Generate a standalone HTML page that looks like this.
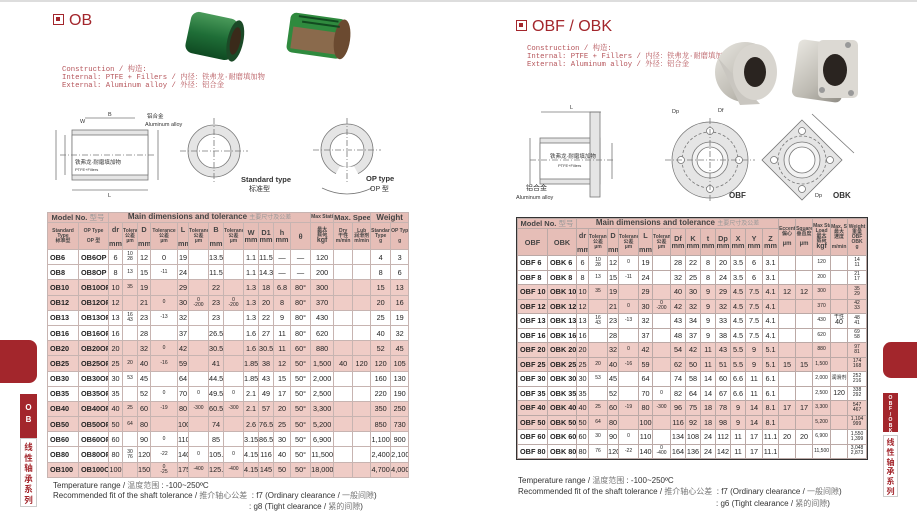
<!DOCTYPE html>
<html><head><meta charset="utf-8">
<style>
*{margin:0;padding:0;box-sizing:border-box}
body{width:917px;height:524px;background:#fff;position:relative;overflow:hidden;font-family:"Liberation Sans","Noto Sans CJK SC",sans-serif;color:#222}
.a{position:absolute}
.title{color:#a3262c;font-size:16px;white-space:nowrap}
.title b{display:inline-block;width:11px;height:11px;border:1.5px solid #a3262c;position:relative;top:0px;margin-right:5px}
.title b:after{content:"";position:absolute;left:2px;top:2px;width:4px;height:4px;background:#a3262c}
.cons{font-family:"Liberation Mono","Noto Serif CJK SC",monospace;font-size:7.3px;line-height:8.2px;color:#b5545a;white-space:pre}
table{border-collapse:collapse;table-layout:fixed;position:absolute}
td{border:1px solid #c7b4b1;text-align:center;vertical-align:middle;font-size:7.3px;line-height:7px;overflow:hidden;white-space:nowrap;padding:0}
tr.p td{background:#efccc6}
tr.h td{background:#e6beb7;font-weight:bold;color:#444}
td.m{font-weight:bold;text-align:left;padding-left:2px}
td.s{font-size:5px;line-height:5px}
#R td{border-color:#bba9a6}
#R{outline:1.5px solid #333}
.foot{font-size:8px;color:#333;white-space:nowrap}
.foot span{color:#777}
</style></head><body>
<div class="a" style="left:0;top:0;width:917px;height:2px;background:#ddd"></div>

<div class="a title" style="left:53px;top:12px;">
<b></b>OB</div>
<div class="a title" style="left:516px;top:18px;"><b></b>OBF / OBK</div>

<div class="a cons" style="left:62px;top:66px">Construction / 构造:
Internal: PTFE + Fillers / 内径：铁弗龙·耐磨填加物
External: Aluminum alloy / 外径：铝合金</div>
<div class="a cons" style="left:527px;top:45px">Construction / 构造:
Internal: PTFE + Fillers / 内径：铁弗龙·耐磨填加物
External: Aluminum alloy / 外径：铝合金</div>

<svg class="a" style="left:0;top:0" width="917" height="210">
<defs>
<linearGradient id="g" x1="0" y1="0" x2="0" y2="1"><stop offset="0" stop-color="#4a9a5a"/><stop offset=".5" stop-color="#1f6e37"/><stop offset="1" stop-color="#0f4a22"/></linearGradient>
<linearGradient id="s" x1="0" y1="0" x2="1" y2="1"><stop offset="0" stop-color="#e8e6e0"/><stop offset=".6" stop-color="#bdbab2"/><stop offset="1" stop-color="#8f8c85"/></linearGradient>
</defs>
<g transform="rotate(12 212 35)"><rect x="188" y="15" width="48" height="42" rx="8" fill="url(#g)"/><ellipse cx="236" cy="36" rx="8" ry="21" fill="#1b4a27"/><ellipse cx="236" cy="36" rx="5" ry="14" fill="#3a2a1a"/></g>
<g transform="rotate(8 318 38)"><rect x="288" y="16" width="56" height="40" rx="6" fill="#2f8a3e"/><rect x="292" y="30" width="46" height="22" fill="#8a6a4c"/><ellipse cx="342" cy="36" rx="8" ry="20" fill="#6b4a30"/><path d="M296 19h40M300 24h38" stroke="#124a20" stroke-width="2"/></g>
<g><ellipse cx="745" cy="72" rx="30" ry="30" fill="url(#s)"/><path d="M718 58 L740 105 L760 104 Z" fill="#c9c6c0"/><ellipse cx="755" cy="72" rx="22" ry="28" fill="#d8d5cf"/><ellipse cx="755" cy="72" rx="11" ry="15" fill="#2a2420"/></g>
<g><rect x="795" y="42" width="50" height="58" rx="6" fill="url(#s)" transform="rotate(8 820 71)"/><rect x="818" y="40" width="40" height="58" rx="5" fill="#dcd9d3"/><ellipse cx="835" cy="70" rx="12" ry="16" fill="#2a2420"/><circle cx="848" cy="45" r="3" fill="#999"/><circle cx="851" cy="93" r="3" fill="#999"/><circle cx="822" cy="90" r="3" fill="#999"/></g>

<g fill="none" stroke="#777" stroke-width=".8">
<rect x="72" y="130" width="76" height="50" fill="#e5e5e5"/>
<rect x="72" y="135" width="76" height="40" fill="#fff"/>
<line x1="60" y1="155" x2="155" y2="155" stroke-dasharray="6 2 1 2"/>
<line x1="56" y1="130" x2="56" y2="180"/><line x1="65" y1="135" x2="65" y2="175"/>
<line x1="158" y1="130" x2="158" y2="180"/><line x1="72" y1="190" x2="148" y2="190"/>
<line x1="85" y1="118" x2="135" y2="118"/>
<circle cx="214" cy="151" r="26" fill="#e5e5e5"/><circle cx="214" cy="151" r="17" fill="#fff"/>
<line x1="180" y1="151" x2="248" y2="151" stroke-dasharray="6 2 1 2"/><line x1="214" y1="118" x2="214" y2="184" stroke-dasharray="6 2 1 2"/>
<circle cx="347" cy="150" r="26" fill="#e5e5e5"/><circle cx="347" cy="150" r="17" fill="#fff"/>
<path d="M340 167 L333 180 L361 180 L354 167 Z" fill="#fff" stroke="#fff"/>
<line x1="313" y1="150" x2="381" y2="150" stroke-dasharray="6 2 1 2"/><line x1="347" y1="118" x2="347" y2="184" stroke-dasharray="6 2 1 2"/>
<path d="M322 188 Q347 200 372 188"/>
<rect x="540" y="138" width="60" height="46" fill="#e5e5e5"/><rect x="540" y="143" width="60" height="36" fill="#fff"/>
<rect x="590" y="112" width="10" height="85" fill="#e5e5e5"/>
<line x1="530" y1="160" x2="615" y2="160" stroke-dasharray="6 2 1 2"/>
<line x1="541" y1="112" x2="601" y2="112"/><line x1="530" y1="138" x2="530" y2="184"/><line x1="612" y1="143" x2="612" y2="179"/>
<circle cx="710" cy="160" r="38" fill="#e5e5e5"/><circle cx="710" cy="160" r="28" stroke-dasharray="3 2"/><circle cx="710" cy="160" r="18" fill="#f2f2f2"/><circle cx="710" cy="160" r="13" fill="#fff"/>
<circle cx="710" cy="131" r="3.5" fill="#fff"/><circle cx="710" cy="189" r="3.5" fill="#fff"/><circle cx="681" cy="160" r="3.5" fill="#fff"/><circle cx="739" cy="160" r="3.5" fill="#fff"/>
<line x1="665" y1="160" x2="755" y2="160" stroke-dasharray="6 2 1 2"/><line x1="710" y1="118" x2="710" y2="202" stroke-dasharray="6 2 1 2"/>
<path d="M802 120 L842 160 L802 200 L762 160 Z" fill="#e5e5e5"/><circle cx="802" cy="160" r="18" fill="#f2f2f2"/><circle cx="802" cy="160" r="13" fill="#fff"/><circle cx="802" cy="160" r="24" stroke-dasharray="3 2"/>
<circle cx="802" cy="131" r="3.5" fill="#fff"/><circle cx="802" cy="189" r="3.5" fill="#fff"/><circle cx="774" cy="160" r="3.5" fill="#fff"/><circle cx="830" cy="160" r="3.5" fill="#fff"/>
<line x1="812" y1="114" x2="854" y2="153"/>
</g>
<g font-size="5.5" fill="#333" font-family="Liberation Sans,Noto Sans CJK SC,sans-serif">
<text x="108" y="116">B</text><text x="80" y="123">W</text><text x="147" y="118">铝合金</text><text x="145" y="126">Aluminum alloy</text>
<text x="75" y="164">铁弗龙·耐磨填加物</text><text x="75" y="171" font-size="4">PTFE+Fillers</text><text x="108" y="197">L</text>
<text x="241" y="182" font-size="7.5" font-weight="bold">Standard type</text><text x="249" y="191" font-size="7">标准型</text>
<text x="366" y="181" font-size="7.5" font-weight="bold">OP type</text><text x="370" y="191" font-size="7">OP 型</text>
<text x="570" y="109">L</text><text x="550" y="158">铁弗龙·耐磨填加物</text><text x="558" y="167" font-size="4">PTFE+Fillers</text>
<text x="526" y="190" font-size="7">铝合金</text><text x="516" y="199">Aluminum alloy</text>
<text x="672" y="113">Dp</text><text x="718" y="112">Df</text>
<text x="729" y="198" font-size="8" font-weight="bold">OBF</text><text x="833" y="198" font-size="8" font-weight="bold">OBK</text><text x="815" y="197">Dp</text>
</g>
</svg>

<table style="left:47px;top:212px;width:361px">
<colgroup><col style="width:31px"><col style="width:30px"><col style="width:14px"><col style="width:15px"><col style="width:13px"><col style="width:27px"><col style="width:11px"><col style="width:20px"><col style="width:15px"><col style="width:20px"><col style="width:15px"><col style="width:15px"><col style="width:17px"><col style="width:20px"><col style="width:23px"><col style="width:19px"><col style="width:18px"><col style="width:20px"><col style="width:18px"></colgroup>
<tr class="h" style="height:10px"><td colspan="2" style="font-size:7.5px">Model No. <span style="font-weight:normal;color:#999">型号</span></td><td colspan="12" style="font-size:8px">Main dimensions and tolerance <span style="font-weight:normal;color:#999;font-size:6px">主要尺寸及公差</span></td><td class="s">Max Static Load</td><td colspan="2" style="font-size:7.5px">Max. Speed</td><td colspan="2" style="font-size:8px">Weight</td></tr>
<tr class="h" style="height:27px"><td class="s">Standard<br>Type<br>标准型</td><td class="s">OP Type<br><br>OP 型</td><td>dr<br><br>mm</td><td class="s">Tolerance<br>公差<br>µm</td><td>D<br><br>mm</td><td class="s">Tolerance<br>公差<br>µm</td><td>L<br><br>mm</td><td class="s">Tolerance<br>公差<br>µm</td><td>B<br><br>mm</td><td class="s">Tolerance<br>公差<br>µm</td><td>W<br>mm</td><td>D1<br>mm</td><td>h<br>mm</td><td>θ</td><td class="s">最大<br>载荷<br><b style="font-size:7px">kgf</b></td><td class="s">Dry<br>干性<br>m/min</td><td class="s">Lub<br>润滑剂<br>m/min</td><td class="s">Standard<br>Type<br>g</td><td class="s">OP Type<br><br>g</td></tr>
<tr style="height:15.2px"><td class="m">OB6</td><td class="m">OB6OP</td><td>6</td><td class="s">10<br>28</td><td>12</td><td>0</td><td>19</td><td></td><td>13.5</td><td></td><td>1.1</td><td>11.5</td><td>—</td><td>—</td><td>120</td><td></td><td></td><td>4</td><td>3</td></tr>
<tr style="height:15.2px"><td class="m">OB8</td><td class="m">OB8OP</td><td>8</td><td class="s">13</td><td>15</td><td class="s">-11</td><td>24</td><td></td><td>11.5</td><td></td><td>1.1</td><td>14.3</td><td>—</td><td>—</td><td>200</td><td></td><td></td><td>8</td><td>6</td></tr>
<tr class="p" style="height:15.2px"><td class="m">OB10</td><td class="m">OB10OP</td><td>10</td><td class="s">35</td><td>19</td><td></td><td>29</td><td></td><td>22</td><td></td><td>1.3</td><td>18</td><td>6.8</td><td>80°</td><td>300</td><td></td><td></td><td>15</td><td>13</td></tr>
<tr class="p" style="height:15.2px"><td class="m">OB12</td><td class="m">OB12OP</td><td>12</td><td></td><td>21</td><td class="s">0</td><td>30</td><td class="s">0<br>-200</td><td>23</td><td class="s">0<br>-200</td><td>1.3</td><td>20</td><td>8</td><td>80°</td><td>370</td><td></td><td></td><td>20</td><td>16</td></tr>
<tr style="height:15.2px"><td class="m">OB13</td><td class="m">OB13OP</td><td>13</td><td class="s">16<br>43</td><td>23</td><td class="s">-13</td><td>32</td><td></td><td>23</td><td></td><td>1.3</td><td>22</td><td>9</td><td>80°</td><td>430</td><td></td><td></td><td>25</td><td>19</td></tr>
<tr style="height:15.2px"><td class="m">OB16</td><td class="m">OB16OP</td><td>16</td><td></td><td>28</td><td></td><td>37</td><td></td><td>26.5</td><td></td><td>1.6</td><td>27</td><td>11</td><td>80°</td><td>620</td><td></td><td></td><td>40</td><td>32</td></tr>
<tr class="p" style="height:15.2px"><td class="m">OB20</td><td class="m">OB20OP</td><td>20</td><td></td><td>32</td><td class="s">0</td><td>42</td><td></td><td>30.5</td><td></td><td>1.6</td><td>30.5</td><td>11</td><td>60°</td><td>880</td><td></td><td></td><td>52</td><td>45</td></tr>
<tr class="p" style="height:15.2px"><td class="m">OB25</td><td class="m">OB25OP</td><td>25</td><td class="s">20</td><td>40</td><td class="s">-16</td><td>59</td><td></td><td>41</td><td></td><td>1.85</td><td>38</td><td>12</td><td>50°</td><td>1,500</td><td>40</td><td>120</td><td>120</td><td>105</td></tr>
<tr style="height:15.2px"><td class="m">OB30</td><td class="m">OB30OP</td><td>30</td><td class="s">53</td><td>45</td><td></td><td>64</td><td></td><td>44.5</td><td></td><td>1.85</td><td>43</td><td>15</td><td>50°</td><td>2,000</td><td></td><td></td><td>160</td><td>130</td></tr>
<tr style="height:15.2px"><td class="m">OB35</td><td class="m">OB35OP</td><td>35</td><td></td><td>52</td><td class="s">0</td><td>70</td><td class="s">0</td><td>49.5</td><td class="s">0</td><td>2.1</td><td>49</td><td>17</td><td>50°</td><td>2,500</td><td></td><td></td><td>220</td><td>190</td></tr>
<tr class="p" style="height:15.2px"><td class="m">OB40</td><td class="m">OB40OP</td><td>40</td><td class="s">25</td><td>60</td><td class="s">-19</td><td>80</td><td class="s">-300</td><td>60.5</td><td class="s">-300</td><td>2.1</td><td>57</td><td>20</td><td>50°</td><td>3,300</td><td></td><td></td><td>350</td><td>250</td></tr>
<tr class="p" style="height:15.2px"><td class="m">OB50</td><td class="m">OB50OP</td><td>50</td><td class="s">64</td><td>80</td><td></td><td>100</td><td></td><td>74</td><td></td><td>2.6</td><td>76.5</td><td>25</td><td>50°</td><td>5,200</td><td></td><td></td><td>850</td><td>730</td></tr>
<tr style="height:15.2px"><td class="m">OB60</td><td class="m">OB60OP</td><td>60</td><td></td><td>90</td><td class="s">0</td><td>110</td><td></td><td>85</td><td></td><td>3.15</td><td>86.5</td><td>30</td><td>50°</td><td>6,900</td><td></td><td></td><td>1,100</td><td>900</td></tr>
<tr style="height:15.2px"><td class="m">OB80</td><td class="m">OB80OP</td><td>80</td><td class="s">30<br>76</td><td>120</td><td class="s">-22</td><td>140</td><td class="s">0</td><td>105.5</td><td class="s">0</td><td>4.15</td><td>116</td><td>40</td><td>50°</td><td>11,500</td><td></td><td></td><td>2,400</td><td>2,100</td></tr>
<tr class="p" style="height:15.2px"><td class="m">OB100</td><td class="m">OB100OP</td><td>100</td><td></td><td>150</td><td class="s">0<br>-25</td><td>175</td><td class="s">-400</td><td>125.5</td><td class="s">-400</td><td>4.15</td><td>145</td><td>50</td><td>50°</td><td>18,000</td><td></td><td></td><td>4,700</td><td>4,000</td></tr>
</table>

<table id="R" style="left:517px;top:218px;width:349px">
<colgroup><col style="width:30px"><col style="width:29px"><col style="width:12px"><col style="width:19px"><col style="width:11px"><col style="width:20px"><col style="width:14px"><col style="width:18px"><col style="width:15px"><col style="width:15px"><col style="width:15px"><col style="width:15px"><col style="width:15px"><col style="width:17px"><col style="width:16px"><col style="width:17px"><col style="width:17px"><col style="width:18px"><col style="width:17px"><col style="width:19px"></colgroup>
<tr class="h" style="height:10px"><td colspan="2" style="font-size:7.5px">Model No. <span style="font-weight:normal;color:#999">型号</span></td><td colspan="13" style="font-size:8px">Main dimensions and tolerance <span style="font-weight:normal;color:#999;font-size:6px">主要尺寸及公差</span></td><td class="s" rowspan="2">Eccentricity<br>偏心<br><br><b style="font-size:6px">µm</b></td><td class="s" rowspan="2">Squareness<br>垂直度<br><br><b style="font-size:6px">µm</b></td><td class="s" rowspan="2">Max Static<br>Load<br>最大<br>载荷<br><b style="font-size:7px">kgf</b></td><td class="s" rowspan="2">Max. Speed<br>最大<br>速度<br><br>m/min</td><td class="s" rowspan="2">Weight<br>重量<br><b>OBF<br>OBK<br>g</b></td></tr>
<tr class="h" style="height:27px"><td>OBF</td><td>OBK</td><td>dr<br><br>mm</td><td class="s">Tolerance<br>公差<br>µm</td><td>D<br><br>mm</td><td class="s">Tolerance<br>公差<br>µm</td><td>L<br><br>mm</td><td class="s">Tolerance<br>公差<br>µm</td><td>Df<br>mm</td><td>K<br>mm</td><td>t<br>mm</td><td>Dp<br>mm</td><td>X<br>mm</td><td>Y<br>mm</td><td>Z<br>mm</td></tr>
<tr style="height:14.5px"><td class="m">OBF 6</td><td class="m">OBK 6</td><td>6</td><td class="s">10<br>28</td><td>12</td><td class="s">0</td><td>19</td><td></td><td>28</td><td>22</td><td>8</td><td>20</td><td>3.5</td><td>6</td><td>3.1</td><td></td><td></td><td class="s">120</td><td></td><td class="s">14<br>11</td></tr>
<tr style="height:14.5px"><td class="m">OBF 8</td><td class="m">OBK 8</td><td>8</td><td class="s">13</td><td>15</td><td class="s">-11</td><td>24</td><td></td><td>32</td><td>25</td><td>8</td><td>24</td><td>3.5</td><td>6</td><td>3.1</td><td></td><td></td><td class="s">200</td><td></td><td class="s">21<br>17</td></tr>
<tr class="p" style="height:14.5px"><td class="m">OBF 10</td><td class="m">OBK 10</td><td>10</td><td class="s">35</td><td>19</td><td></td><td>29</td><td></td><td>40</td><td>30</td><td>9</td><td>29</td><td>4.5</td><td>7.5</td><td>4.1</td><td>12</td><td>12</td><td class="s">300</td><td></td><td class="s">35<br>29</td></tr>
<tr class="p" style="height:14.5px"><td class="m">OBF 12</td><td class="m">OBK 12</td><td>12</td><td></td><td>21</td><td class="s">0</td><td>30</td><td class="s">0<br>-200</td><td>42</td><td>32</td><td>9</td><td>32</td><td>4.5</td><td>7.5</td><td>4.1</td><td></td><td></td><td class="s">370</td><td></td><td class="s">42<br>33</td></tr>
<tr style="height:14.5px"><td class="m">OBF 13</td><td class="m">OBK 13</td><td>13</td><td class="s">16<br>43</td><td>23</td><td class="s">-13</td><td>32</td><td></td><td>43</td><td>34</td><td>9</td><td>33</td><td>4.5</td><td>7.5</td><td>4.1</td><td></td><td></td><td class="s">430</td><td class="s">干性<br><span style="font-size:7px">40</span></td><td class="s">48<br>41</td></tr>
<tr style="height:14.5px"><td class="m">OBF 16</td><td class="m">OBK 16</td><td>16</td><td></td><td>28</td><td></td><td>37</td><td></td><td>48</td><td>37</td><td>9</td><td>38</td><td>4.5</td><td>7.5</td><td>4.1</td><td></td><td></td><td class="s">620</td><td></td><td class="s">69<br>58</td></tr>
<tr class="p" style="height:14.5px"><td class="m">OBF 20</td><td class="m">OBK 20</td><td>20</td><td></td><td>32</td><td class="s">0</td><td>42</td><td></td><td>54</td><td>42</td><td>11</td><td>43</td><td>5.5</td><td>9</td><td>5.1</td><td></td><td></td><td class="s">880</td><td></td><td class="s">97<br>81</td></tr>
<tr class="p" style="height:14.5px"><td class="m">OBF 25</td><td class="m">OBK 25</td><td>25</td><td class="s">20</td><td>40</td><td class="s">-16</td><td>59</td><td></td><td>62</td><td>50</td><td>11</td><td>51</td><td>5.5</td><td>9</td><td>5.1</td><td>15</td><td>15</td><td class="s">1,500</td><td></td><td class="s">174<br>168</td></tr>
<tr style="height:14.5px"><td class="m">OBF 30</td><td class="m">OBK 30</td><td>30</td><td class="s">53</td><td>45</td><td></td><td>64</td><td></td><td>74</td><td>58</td><td>14</td><td>60</td><td>6.6</td><td>11</td><td>6.1</td><td></td><td></td><td class="s">2,000</td><td class="s">润滑剂</td><td class="s">252<br>216</td></tr>
<tr style="height:14.5px"><td class="m">OBF 35</td><td class="m">OBK 35</td><td>35</td><td></td><td>52</td><td></td><td>70</td><td class="s">0</td><td>82</td><td>64</td><td>14</td><td>67</td><td>6.6</td><td>11</td><td>6.1</td><td></td><td></td><td class="s">2,500</td><td style="font-size:7px">120</td><td class="s">338<br>292</td></tr>
<tr class="p" style="height:14.5px"><td class="m">OBF 40</td><td class="m">OBK 40</td><td>40</td><td class="s">25</td><td>60</td><td class="s">-19</td><td>80</td><td class="s">-300</td><td>96</td><td>75</td><td>18</td><td>78</td><td>9</td><td>14</td><td>8.1</td><td>17</td><td>17</td><td class="s">3,300</td><td></td><td class="s">547<br>467</td></tr>
<tr class="p" style="height:14.5px"><td class="m">OBF 50</td><td class="m">OBK 50</td><td>50</td><td class="s">64</td><td>80</td><td></td><td>100</td><td></td><td>116</td><td>92</td><td>18</td><td>98</td><td>9</td><td>14</td><td>8.1</td><td></td><td></td><td class="s">5,200</td><td></td><td class="s">1,104<br>999</td></tr>
<tr style="height:14.5px"><td class="m">OBF 60</td><td class="m">OBK 60</td><td>60</td><td class="s">30</td><td>90</td><td class="s">0</td><td>110</td><td></td><td>134</td><td>108</td><td>24</td><td>112</td><td>11</td><td>17</td><td>11.1</td><td>20</td><td>20</td><td class="s">6,900</td><td></td><td class="s">1,550<br>1,399</td></tr>
<tr style="height:14.5px"><td class="m">OBF 80</td><td class="m">OBK 80</td><td>80</td><td class="s">76</td><td>120</td><td class="s">-22</td><td>140</td><td class="s">0<br>-400</td><td>164</td><td>136</td><td>24</td><td>142</td><td>11</td><td>17</td><td>11.1</td><td></td><td></td><td class="s">11,500</td><td></td><td class="s">3,048<br>2,873</td></tr>
</table>

<div class="a foot" style="left:53px;top:480px">Temperature range / <span>温度范围</span> : -100~250ºC</div>
<div class="a foot" style="left:53px;top:490px">Recommended fit of the shaft tolerance / <span>推介轴心公差</span> &nbsp;: f7 (Ordinary clearance / <span>一般间隙</span>)</div>
<div class="a foot" style="left:249px;top:501px">: g8 (Tight clearance / <span>紧的间隙</span>)</div>

<div class="a foot" style="left:518px;top:475px">Temperature range / <span>温度范围</span> : -100~250ºC</div>
<div class="a foot" style="left:518px;top:486px">Recommended fit of the shaft tolerance / <span>推介轴心公差</span> &nbsp;: f7 (Ordinary clearance / <span>一般间隙</span>)</div>
<div class="a foot" style="left:716px;top:498px">: g6 (Tight clearance / <span>紧的间隙</span>)</div>

<div class="a" style="left:0;top:340px;width:37px;height:43px;background:#a3262c;border-radius:0 8px 8px 0"></div>
<div class="a" style="left:20px;top:394px;width:17px;height:44px;background:#a3262c;color:#fff;font-weight:bold;font-size:8px;text-align:center;line-height:12px;padding-top:8px">O<br>B</div>
<div class="a" style="left:20px;top:438px;width:17px;height:69px;border:1px solid #ccc;color:#a3262c;font-weight:bold;font-size:8.5px;text-align:center;line-height:10.5px;padding-top:3px;font-family:'Noto Sans CJK SC',sans-serif">线<br>性<br>轴<br>承<br>系<br>列</div>

<div class="a" style="left:883px;top:342px;width:34px;height:36px;background:#a3262c;border-radius:8px 0 0 8px"></div>
<div class="a" style="left:883px;top:393px;width:15px;height:39px;background:#a3262c;color:#fff;font-weight:bold;font-size:5px;text-align:center;line-height:5.5px;padding-top:3px">O<br>B<br>F<br>/<br>O<br>B<br>K</div>
<div class="a" style="left:883px;top:435px;width:15px;height:62px;border:1px solid #ccc;color:#a3262c;font-weight:bold;font-size:8px;text-align:center;line-height:9.8px;padding-top:2px;font-family:'Noto Sans CJK SC',sans-serif">线<br>性<br>轴<br>承<br>系<br>列</div>
</body></html>
